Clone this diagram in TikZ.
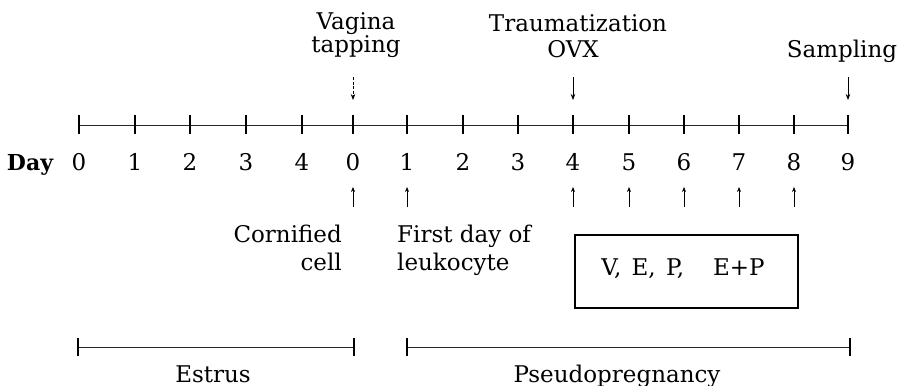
\documentclass[tikz,border=0pt]{standalone}
\usepackage{fontspec}
\setmainfont{DejaVu Serif}
\usetikzlibrary{arrows.meta}
\begin{document}
\begin{tikzpicture}[x=1pt,y=-1pt,
  txt/.style={font=\fontsize{23}{27}\selectfont, inner sep=0pt},
  basel/.style={txt, anchor=base},
  axis/.style={line width=0.9pt, black!85},
  tick/.style={line width=1.3pt},
  downarr/.style={line width=0.7pt, -{Stealth[length=6pt,width=4.5pt]}},
  uparr/.style={line width=0.6pt, -{Stealth[length=5pt,width=4pt]}},
  barline/.style={line width=0.8pt, black!85},
  boxst/.style={draw, line width=1.6pt, minimum width=223pt, minimum height=73pt, inner sep=0pt}
]
\useasboundingbox (0,0) rectangle (898,386);
% tick coordinates
\foreach \i/\x in {0/79,1/135,2/190,3/246,4/302,5/353,6/407,7/463,8/518,9/573,10/629,11/684,12/739,13/794,14/848}{
  \coordinate (t\i) at (\x,125);
  \coordinate (tt\i) at (\x,115);
  \coordinate (tb\i) at (\x,134);
}
\draw[axis] (t0) -- (t14);
\foreach \i in {0,...,14}{ \draw[tick] (tt\i) -- (tb\i); }
% day labels
\node[basel, font=\fontsize{22}{27}\selectfont\bfseries] (day) at (30,170) {Day};
\foreach \i/\x/\l in {0/79/0,1/135/1,2/190/2,3/246/3,4/302/4,5/353/0,6/407/1,7/463/2,8/518/3,9/573/4,10/629/5,11/684/6,12/739/7,13/794/8,14/848/9}{
  \node[basel] (n\i) at (\x,170) {\l};
}
% top labels
\node[basel] (vag1) at (356,29) {Vagina};
\node[basel] (vag2) at (356,52) {tapping};
\node[basel] (tra1) at (578,31) {Traumatization};
\node[basel] (tra2) at (573,57) {OVX};
\node[basel] (samp) at (842,57) {Sampling};
% down arrows
\coordinate (da5) at (353,77);  \coordinate (db5) at (353,100);
\coordinate (da9) at (573,77);  \coordinate (db9) at (573,100);
\coordinate (da14) at (848,77); \coordinate (db14) at (848,100);
\draw[downarr, dash pattern=on 3pt off 1.5pt] (da5) -- (db5);
\draw[downarr] (da9) -- (db9);
\draw[downarr] (da14) -- (db14);
% up arrows
\foreach \i/\x in {5/353,6/407,9/573,10/629,11/684,12/739,13/794}{
  \coordinate (ua\i) at (\x,207);
  \coordinate (ub\i) at (\x,187);
  \draw[uparr] (ua\i) -- (ub\i);
}
% lower labels
\node[basel, anchor=base east] (corn1) at (342,242) {Cornified};
\node[basel, anchor=base east] (corn2) at (342,270) {cell};
\node[basel, anchor=base west] (first1) at (397,242) {First day of};
\node[basel, anchor=base west] (first2) at (397,270) {leukocyte};
% box
\node[boxst] (box) at (686.5,271.5) {};
\node[basel] (boxtxt) at (683,275) {V,\hspace{0.45em}E,\hspace{0.45em}P,\hspace{1.25em}E+P};
% period bars
\coordinate (es1) at (78,347); \coordinate (es2) at (354,347);
\coordinate (ps1) at (407,347); \coordinate (ps2) at (850,347);
\draw[barline] (es1) -- (es2);
\draw[barline] (ps1) -- (ps2);
\foreach \c in {es1,es2,ps1,ps2}{
  \draw[tick, line width=1.1pt] ([yshift=-9pt]\c) -- ([yshift=9pt]\c);
}
\node[basel] (estrus) at (213,382) {Estrus};
\node[basel] (pseudo) at (617,382) {Pseudopregnancy};
\end{tikzpicture}
\end{document}
